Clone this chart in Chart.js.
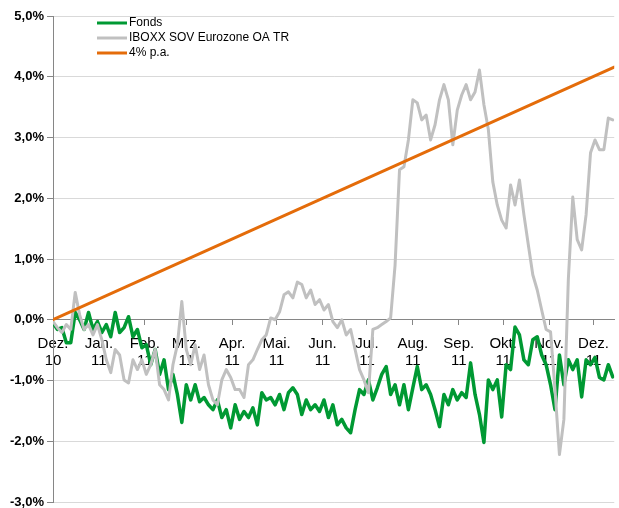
<!DOCTYPE html>
<html lang="de">
<head>
<meta charset="UTF-8">
<title>Fonds vs. IBOXX</title>
<script src="https://cdn.jsdelivr.net/npm/chart.js"></script>
<style>
  body { margin: 0; background: #fff; }
  #wrap { width: 619px; height: 508px; }
</style>
</head>
<body>
<div id="wrap"><canvas id="chart" width="619" height="508"></canvas></div>
<script>
// sample every 3 calendar days starting 1 Dec 2010 (day 0)
const sampleStep = 3;

const fonds = [
  -0.05, -0.16, -0.13, -0.38, -0.38, 0.12, 0.0, -0.16, 0.12, -0.16,
  -0.03, -0.21, -0.08, -0.28, 0.12, -0.21, -0.13, 0.05, -0.28, -0.16,
  -0.46, -0.41, -0.74, -0.49, -0.90, -0.66, -1.15, -0.90, -1.23, -1.69,
  -1.07, -1.32, -1.07, -1.35, -1.28, -1.40, -1.48, -1.32, -1.61, -1.48,
  -1.78, -1.40, -1.64, -1.51, -1.61, -1.45, -1.73, -1.20, -1.32, -1.28,
  -1.40, -1.23, -1.48, -1.20, -1.12, -1.23, -1.56, -1.32, -1.48, -1.40,
  -1.51, -1.32, -1.61, -1.40, -1.73, -1.64, -1.78, -1.86, -1.48, -1.15,
  -1.23, -0.99, -1.32, -1.12, -0.90, -0.77, -1.23, -1.07, -1.40, -1.07,
  -1.48, -1.12, -0.77, -1.15, -1.07, -1.23, -1.48, -1.76, -1.23, -1.40,
  -1.15, -1.32, -1.20, -1.28, -0.71, -1.23, -1.56, -2.02, -0.99, -1.15,
  -0.99, -1.60, -0.74, -0.82, -0.12, -0.25, -0.66, -0.74, -0.33, -0.28,
  -0.58, -0.74, -1.07, -1.48, -0.58, -1.07, -0.66, -0.82, -0.66, -1.27,
  -0.66, -0.74, -0.62, -0.95, -0.99, -0.74, -0.94
];

const iboxx = [
  -0.03, -0.13, -0.21, -0.08, -0.16, 0.45, 0.08, -0.16, -0.08, -0.25,
  -0.08, -0.33, -0.66, -0.87, -0.49, -0.58, -0.99, -1.04, -0.66, -0.82,
  -0.66, -0.90, -0.74, -0.49, -1.07, -1.15, -1.32, -0.74, -0.41, 0.30,
  -0.49, -0.74, -0.41, -0.82, -0.58, -1.07, -1.32, -1.40, -0.99, -0.82,
  -0.95, -1.15, -1.15, -1.28, -0.74, -0.66, -0.49, -0.33, -0.25, 0.03,
  0.0, 0.13, 0.41, 0.46, 0.36, 0.62, 0.58, 0.36, 0.49, 0.25,
  0.33, 0.16, 0.25, -0.03, -0.13, 0.0, -0.25, -0.16, -0.49, -0.82,
  -0.99, -1.20, -0.16, -0.13, -0.08, -0.03, 0.03, 0.90, 2.47, 2.52,
  2.96, 3.62, 3.57, 3.29, 3.37, 2.96, 3.21, 3.62, 3.87, 3.62,
  2.88, 3.45, 3.70, 3.87, 3.62, 3.75, 4.11, 3.54, 3.13, 2.27,
  1.89, 1.64, 1.51, 2.22, 1.89, 2.30, 1.73, 1.23, 0.74, 0.49,
  0.16, -0.16, -0.20, -1.15, -2.22, -1.64, 0.66, 2.02, 1.32, 1.15,
  1.73, 2.75, 2.96, 2.80, 2.80, 3.32, 3.29
];

// 4% p.a. straight line, start and end
const targetDays = [0, 379];
const targetValues = [0.0, 4.16];

// month ticks (days since 1 Dec 2010) and their labels
const monthDays = [0, 31, 62, 90, 121, 151, 182, 212, 243, 274, 304, 335, 365];
const monthLabels = [
  ['Dez.', '10'], ['Jan.', '11'], ['Feb.', '11'], ['Mrz.', '11'], ['Apr.', '11'],
  ['Mai.', '11'], ['Jun.', '11'], ['Jul.', '11'], ['Aug.', '11'], ['Sep.', '11'],
  ['Okt.', '11'], ['Nov.', '11'], ['Dez.', '11']
];

const seriesNames = ['Fonds', 'IBOXX SOV Eurozone OA TR', '4% p.a.'];
const seriesColors = ['#009933', '#c0c0c0', '#e46c0a'];

const toPoints = arr => arr.map((v, i) => ({ x: i * sampleStep, y: v }));

// legend drawn inside the plot area, top left
const insideLegend = {
  id: 'insideLegend',
  afterDraw(chart) {
    const ctx = chart.ctx;
    ctx.save();
    ctx.font = '12px "Liberation Sans", Arial, sans-serif';
    ctx.textBaseline = 'middle';
    seriesNames.forEach((name, i) => {
      const y = 23 + i * 15;
      ctx.strokeStyle = seriesColors[i];
      ctx.lineWidth = 3;
      ctx.beginPath();
      ctx.moveTo(97, y);
      ctx.lineTo(127, y);
      ctx.stroke();
      ctx.fillStyle = '#000';
      ctx.fillText(name, 129, y);
    });
    ctx.restore();
  }
};

new Chart(document.getElementById('chart'), {
  type: 'line',
  data: {
    datasets: [
      {
        label: seriesNames[0],
        data: toPoints(fonds),
        borderColor: seriesColors[0],
        borderWidth: 3.5,
        order: 2
      },
      {
        label: seriesNames[1],
        data: toPoints(iboxx),
        borderColor: seriesColors[1],
        borderWidth: 3,
        order: 1
      },
      {
        label: seriesNames[2],
        data: targetDays.map((d, i) => ({ x: d, y: targetValues[i] })),
        borderColor: seriesColors[2],
        borderWidth: 3,
        order: 0
      }
    ]
  },
  options: {
    responsive: false,
    animation: false,
    layout: { padding: { top: 16, right: 2, bottom: 6, left: 0 } },
    elements: {
      point: { radius: 0 },
      line: { tension: 0, borderCapStyle: 'round', borderJoinStyle: 'round' }
    },
    plugins: {
      legend: { display: false },
      tooltip: { enabled: false }
    },
    scales: {
      x: {
        type: 'linear',
        position: { y: 0 },
        min: 0,
        max: 379,
        afterBuildTicks: scale => {
          scale.ticks = monthDays.map(v => ({ value: v }));
        },
        afterFit: scale => {
          scale.paddingTop = 0;
          scale.paddingBottom = 0;
        },
        grid: {
          drawOnChartArea: false,
          drawTicks: true,
          tickLength: 5,
          tickColor: '#868686'
        },
        border: { color: '#868686', width: 1 },
        ticks: {
          autoSkip: false,
          maxRotation: 0,
          padding: 10,
          color: '#000',
          font: { family: '"Liberation Sans", Arial, sans-serif', size: 15, lineHeight: 1.15 },
          callback: (v) => {
            const i = monthDays.indexOf(v);
            return i >= 0 ? monthLabels[i] : '';
          }
        }
      },
      y: {
        min: -3,
        max: 5,
        afterFit: scale => {
          scale.width = 53;
          scale.paddingTop = 0;
          scale.paddingBottom = 0;
        },
        grid: {
          color: '#d9d9d9',
          lineWidth: 1,
          drawTicks: true,
          tickLength: 6,
          tickColor: '#868686'
        },
        border: { color: '#868686', width: 1 },
        ticks: {
          stepSize: 1,
          padding: 3,
          color: '#000',
          font: { family: '"Liberation Sans", Arial, sans-serif', size: 13, weight: 'bold' },
          callback: v => v.toFixed(1).replace('.', ',') + '%'
        }
      }
    }
  },
  plugins: [insideLegend]
});
</script>
</body>
</html>
